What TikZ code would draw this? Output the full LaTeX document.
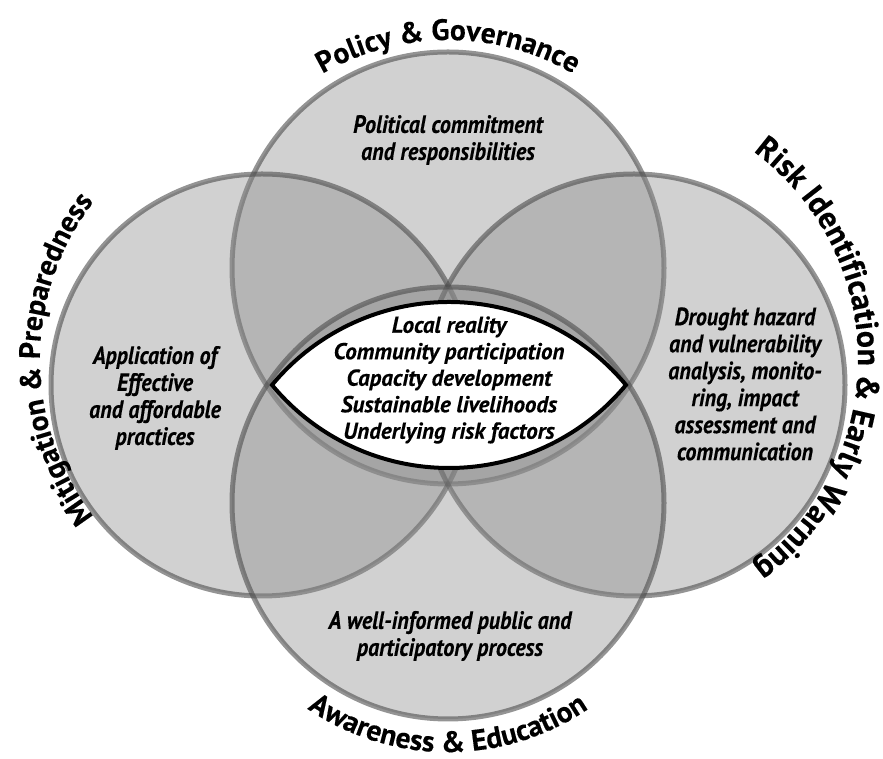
\documentclass[tikz,border=0pt]{standalone}
\usepackage{fontspec}
\setmainfont[FakeBold=0.3]{PT Sans}
\newfontfamily\narrowfont[FakeStretch=0.88, FakeBold=0.3]{PT Sans}
\usetikzlibrary{decorations.text}

\newcommand{\ringfont}{\fontsize{29.5}{31}\selectfont\bfseries}
\newcommand{\wideringfont}{\fontsize{32}{34}\selectfont\bfseries}

\begin{document}
\begin{tikzpicture}[x=1pt, y=1pt,
    ring/.style={line width=5pt, draw=black!70, draw opacity=0.6, fill=black!45, fill opacity=0.4},
    note/.style={align=center, text opacity=1, font=\narrowfont\bfseries\itshape\fontsize{25}{27}\selectfont},
    core/.style={line width=4pt, draw=black, fill=white, line join=miter},
    corenote/.style={align=center, font=\bfseries\itshape\fontsize{23}{26.5}\selectfont},
    label/.style={decorate, decoration={text along path, text align=center, text={|\ringfont|#1}}},
    widelabel/.style={decorate, decoration={text along path, text align=center, text={|\wideringfont|#1}}}]
    \useasboundingbox (0,0) rectangle (883,759);

    % Four pillars
    \draw[ring] (448,491) circle (216);
    \draw[ring] (262,374) circle (211);
    \draw[ring] (634,374) circle (211);
    \draw[ring] (448,256) circle (216);

    % Core lens
    \coordinate (tipL) at (272,374);
    \coordinate (tipR) at (626,374);
    \draw[core] (tipL) arc[start angle=140.25, end angle=39.75, radius=230.2]
        arc[start angle=-39.75, end angle=-140.25, radius=230.2] -- cycle;
    \node[corenote] (coreNote) at (449,379) {Local reality\\Community participation\\Capacity development\\Sustainable livelihoods\\Underlying risk factors};

    % Texts inside the circles
    \node[note] (policyNote) at (448,619) {Political commitment\\and responsibilities};
    \node[note] (mitigationNote) at (155,361) {Application of\\Effective\\and affordable\\practices};
    \node[note] (riskNote) at (745,375) {Drought hazard\\and vulnerability\\analysis, monito-\\ring, impact\\assessment and\\communication};
    \node[note] (awarenessNote) at (450,123) {A well-informed public and\\participatory process};

    % Curved titles
    \path[label={Policy {\&} Governance}] (448,469) ++(150:250) arc[start angle=150, end angle=30, radius=250];
    \path[label={Awareness {\&} Education}] (448,257) ++(200:250) arc[start angle=200, end angle=340, radius=250];
    \path[label={Mitigation {\&} Preparedness}] (298,400) ++(255:258) arc[start angle=255, end angle=105, radius=258];
    \path[widelabel={Risk Identification {\&} Early Warning}] (600,400) ++(88:258) arc[start angle=88, end angle=-88, radius=258];
\end{tikzpicture}
\end{document}
